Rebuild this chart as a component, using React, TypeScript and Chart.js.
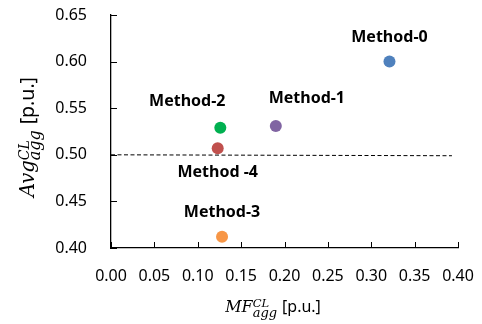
import React, { useEffect, useRef } from "react";
import { Chart, registerables } from "chart.js";

Chart.register(...registerables);

// ---- data ----
const methods = ["Method-0", "Method-1", "Method-2", "Method -4", "Method-3"];
const mfValues = [0.321, 0.19, 0.126, 0.123, 0.128];
const avgValues = [0.6, 0.531, 0.529, 0.507, 0.412];
const pointColors = ["#4F81BD", "#8064A2", "#00B050", "#C0504D", "#F79646"];
const thresholdX = [0, 0.393];
const thresholdY = [0.5, 0.499];
const xTickValues = [0, 0.05, 0.1, 0.15, 0.2, 0.25, 0.3, 0.35, 0.4];
const yTickValues = [0.4, 0.45, 0.5, 0.55, 0.6, 0.65];

// label placement relative to the point (style, not data)
const labelAnchors = ["above", "aboveRight", "aboveLeft", "below", "above"];
const anchorOffsets: Record<string, [number, number]> = {
  above: [0, -24],
  aboveRight: [31, -27],
  aboveLeft: [-33, -26],
  below: [0, 24],
};

const SANS = "'Noto Sans', 'Open Sans', sans-serif";
const SERIF = "'DejaVu Serif', serif";

function drawMathTitle(
  ctx: CanvasRenderingContext2D,
  cx: number,
  cy: number,
  rotate: boolean,
  scale: number,
  base: string,
  sub: string,
  sup: string,
  rest: string
) {
  ctx.save();
  ctx.translate(cx, cy);
  if (rotate) ctx.rotate(-Math.PI / 2);
  ctx.scale(scale, scale);
  ctx.fillStyle = "#000";
  ctx.textBaseline = "alphabetic";
  ctx.textAlign = "left";
  const fBase = `italic 16px ${SERIF}`;
  const fSub = `italic 13px ${SERIF}`;
  const fSup = `italic 11.5px ${SERIF}`;
  const fRest = `16px ${SANS}`;
  ctx.font = fBase;
  const wBase = ctx.measureText(base).width;
  ctx.font = fSub;
  const wSub = ctx.measureText(sub).width;
  ctx.font = fSup;
  const wSup = ctx.measureText(sup).width;
  ctx.font = fRest;
  const wRest = ctx.measureText(rest).width;
  const gap = 5;
  const total = wBase + Math.max(wSub, wSup) + gap + wRest;
  let x = -total / 2;
  const baseY = 5;
  ctx.font = fBase;
  ctx.fillText(base, x, baseY);
  x += wBase;
  ctx.font = fSub;
  ctx.fillText(sub, x, baseY + 5);
  ctx.font = fSup;
  ctx.fillText(sup, x, baseY - 4.5);
  x += Math.max(wSub, wSup) + gap;
  ctx.font = fRest;
  ctx.fillText(rest, x, baseY);
  ctx.restore();
}

const decorPlugin = {
  id: "decor",
  afterDatasetsDraw(chart: any) {
    const ctx: CanvasRenderingContext2D = chart.ctx;
    const xs = chart.scales.x;
    const ys = chart.scales.y;
    const area = chart.chartArea;

    // inward ticks
    ctx.save();
    ctx.strokeStyle = "#000";
    ctx.lineWidth = 1;
    ctx.beginPath();
    xTickValues.forEach((v) => {
      const px = Math.round(xs.getPixelForValue(v)) + 0.5;
      ctx.moveTo(px, area.bottom);
      ctx.lineTo(px, area.bottom - 6);
    });
    yTickValues.forEach((v) => {
      const py = Math.round(ys.getPixelForValue(v)) + 0.5;
      ctx.moveTo(area.left, py);
      ctx.lineTo(area.left + 6, py);
    });
    ctx.stroke();

    // point labels
    const meta = chart.getDatasetMeta(1);
    ctx.font = `bold 16px ${SANS}`;
    ctx.fillStyle = "#000";
    ctx.textAlign = "center";
    ctx.textBaseline = "middle";
    meta.data.forEach((pt: any, i: number) => {
      const off = anchorOffsets[labelAnchors[i]];
      ctx.fillText(methods[i], pt.x + off[0], pt.y + off[1]);
    });
    ctx.restore();

    // axis titles
    drawMathTitle(ctx, 273, 306.5, false, 1, "MF", "agg", "CL", "[p.u.]");
    drawMathTitle(ctx, 28, 137, true, 1.22, "Avg", "agg", "CL", "[p.u.]");
  },
};

export default function App() {
  const ref = useRef<HTMLCanvasElement | null>(null);
  useEffect(() => {
    if (!ref.current) return;
    const chart = new Chart(ref.current, {
      type: "scatter",
      data: {
        datasets: [
          {
            type: "line",
            label: "threshold",
            data: thresholdX.map((x, i) => ({ x, y: thresholdY[i] })),
            borderColor: "#000",
            borderWidth: 1,
            borderDash: [4, 2.5],
            pointRadius: 0,
            showLine: true,
            fill: false,
          } as any,
          {
            label: "methods",
            data: mfValues.map((x, i) => ({ x, y: avgValues[i] })),
            pointBackgroundColor: pointColors,
            backgroundColor: pointColors,
            pointBorderWidth: 0,
            borderWidth: 0,
            pointRadius: 6,
          },
        ],
      },
      options: {
        responsive: false,
        animation: false,
        events: [],
        layout: { padding: { top: 15, right: 24, left: 0, bottom: 0 } },
        plugins: {
          legend: { display: false },
          tooltip: { enabled: false },
          title: { display: false },
        },
        scales: {
          x: {
            type: "linear",
            min: 0,
            max: 0.4,
            afterBuildTicks: (s: any) => {
              s.ticks = xTickValues.map((v) => ({ value: v }));
            },
            afterFit: (s: any) => {
              s.height = 76;
              s.paddingLeft = 0;
              s.paddingRight = 0;
            },
            ticks: {
              callback: (v: any) => Number(v).toFixed(2),
              color: "#000",
              font: { family: SANS, size: 16 },
              padding: 19,
              maxRotation: 0,
              autoSkip: false,
            },
            grid: { drawOnChartArea: false, drawTicks: false },
            border: { display: true, color: "#000", width: 1.3 },
          },
          y: {
            type: "linear",
            min: 0.4,
            max: 0.65,
            afterBuildTicks: (s: any) => {
              s.ticks = yTickValues.map((v) => ({ value: v }));
            },
            afterFit: (s: any) => {
              s.width = 111;
              s.paddingTop = 0;
              s.paddingBottom = 0;
            },
            ticks: {
              callback: (v: any) => Number(v).toFixed(2),
              color: "#000",
              font: { family: SANS, size: 16 },
              padding: 24,
              autoSkip: false,
            },
            grid: { drawOnChartArea: false, drawTicks: false },
            border: { display: true, color: "#000", width: 1.3 },
          },
        },
      },
      plugins: [decorPlugin],
    });
    return () => chart.destroy();
  }, []);
  return (
    <div style={{ position: "fixed", left: 0, top: 0, width: 482, height: 324, background: "#fff" }}>
      <canvas ref={ref} width={482} height={324} style={{ display: "block" }} />
    </div>
  );
}
